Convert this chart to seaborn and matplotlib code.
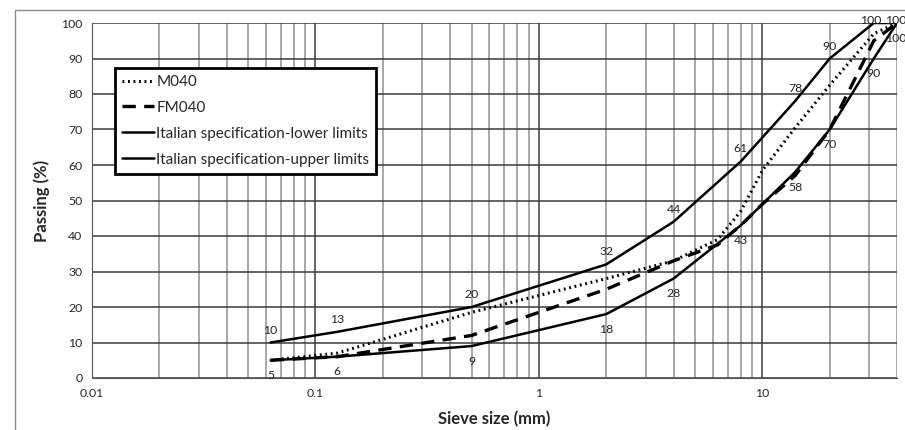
import matplotlib
matplotlib.use("Agg")
import matplotlib.pyplot as plt
import matplotlib.ticker as mticker
from matplotlib.patches import Rectangle
import seaborn as sns
import pandas as pd

# sieve sizes (mm) and passing (%)
sieve_spec = [0.063, 0.125, 0.5, 2, 4, 8, 14, 20, 31.5, 40]
spec_lower = [5, 6, 9, 18, 28, 43, 58, 70, 90, 100]
spec_upper = [10, 13, 20, 32, 44, 61, 78, 90, 100, 100]

sieve_mix = [0.063, 0.125, 0.5, 2, 4, 6.3, 8, 10, 14, 20, 31.5, 40]
m040 = [5, 7, 18.5, 28, 33, 39, 47, 58.5, 70.5, 82.5, 97, 100]
fm040 = [5, 6, 12, 25, 33, 37.5, 43, 49, 57, 70, 95, 100]

x_ticks = [0.01, 0.1, 1, 10]
x_tick_labels = ["0.01", "0.1", "1", "10"]

sns.set_style("white")
plt.rcParams['font.family'] = ['Lato', 'DejaVu Sans']

fig = plt.figure(figsize=(9.05, 4.30), dpi=100)
ax = fig.add_axes([92/905, 1-378/430, (897-92)/905, (378-23)/430])

# outer chart border
fig.patches.append(Rectangle((15/905, -0.05), 1.0, (1-10/430)+0.05, transform=fig.transFigure,
                             fill=False, edgecolor="#8a8a8a", lw=1.0))

df_mix = pd.DataFrame({"sieve": sieve_mix, "M040": m040, "FM040": fm040})
df_spec = pd.DataFrame({"sieve": sieve_spec, "lower": spec_lower, "upper": spec_upper})

sns.lineplot(data=df_mix, x="sieve", y="M040", ax=ax, color="black", lw=2.2,
             linestyle=(0, (0.6, 1.2)), label="M040")
sns.lineplot(data=df_mix, x="sieve", y="FM040", ax=ax, color="black", lw=2.4,
             linestyle=(0, (4, 2.5)), label="FM040")
sns.lineplot(data=df_spec, x="sieve", y="lower", ax=ax, color="black", lw=1.8,
             label="Italian specification-lower limits")
sns.lineplot(data=df_spec, x="sieve", y="upper", ax=ax, color="black", lw=1.8,
             label="Italian specification-upper limits")

# data labels on the specification limits
n = len(sieve_spec)
for i, (xv, yv) in enumerate(zip(sieve_spec, spec_upper)):
    dx = {n - 2: -2, n - 1: -1}.get(i, 0)
    dy = 9 if yv < 100 else 2
    ax.annotate(str(yv), (xv, yv), xytext=(dx, dy), textcoords="offset points",
                ha="center", va="center", fontsize=8.8, color="#222222", annotation_clip=False)
for i, (xv, yv) in enumerate(zip(sieve_spec, spec_lower)):
    dx = -1 if i == n - 1 else 0
    ax.annotate(str(yv), (xv, yv), xytext=(dx, -11), textcoords="offset points",
                ha="center", va="center", fontsize=8.8, color="#222222", annotation_clip=False)

ax.set_xscale("log")
ax.set_xlim(0.01, 40)
ax.set_ylim(0, 100)
ax.set_yticks(range(0, 101, 10))
ax.set_xticks(x_ticks)
ax.set_xticklabels(x_tick_labels)
ax.xaxis.set_minor_locator(mticker.LogLocator(base=10, subs=range(2, 10)))
ax.xaxis.set_minor_formatter(mticker.NullFormatter())

ax.grid(which="major", axis="y", color="#3a3a3a", lw=1.1)
ax.grid(which="major", axis="x", color="#5a5a5a", lw=1.3)
ax.grid(which="minor", axis="x", color="#9a9a9a", lw=1.2)
ax.set_axisbelow(True)

for s in ["top", "right"]:
    ax.spines[s].set_visible(False)
ax.spines["left"].set_color("#555555")
ax.spines["bottom"].set_color("#555555")
ax.tick_params(axis="both", which="major", direction="out", length=4, width=1,
               color="#555555", labelsize=8.8, pad=3)
ax.tick_params(axis="x", which="minor", length=0)

ax.set_xlabel("Sieve size (mm)", fontsize=12, fontweight="bold", labelpad=9)
ax.set_ylabel("Passing (%)", fontsize=12, fontweight="bold", labelpad=8)

leg = ax.legend(loc="upper left", bbox_to_anchor=((115-92)/805, (378-68)/355),
                fancybox=False, framealpha=1, edgecolor="black", fontsize=11,
                handlelength=2.1, handletextpad=0.15, borderpad=0.45, labelspacing=0.78,
                borderaxespad=0)
leg.get_frame().set_linewidth(2)

fig.savefig("out.png", dpi=100)
